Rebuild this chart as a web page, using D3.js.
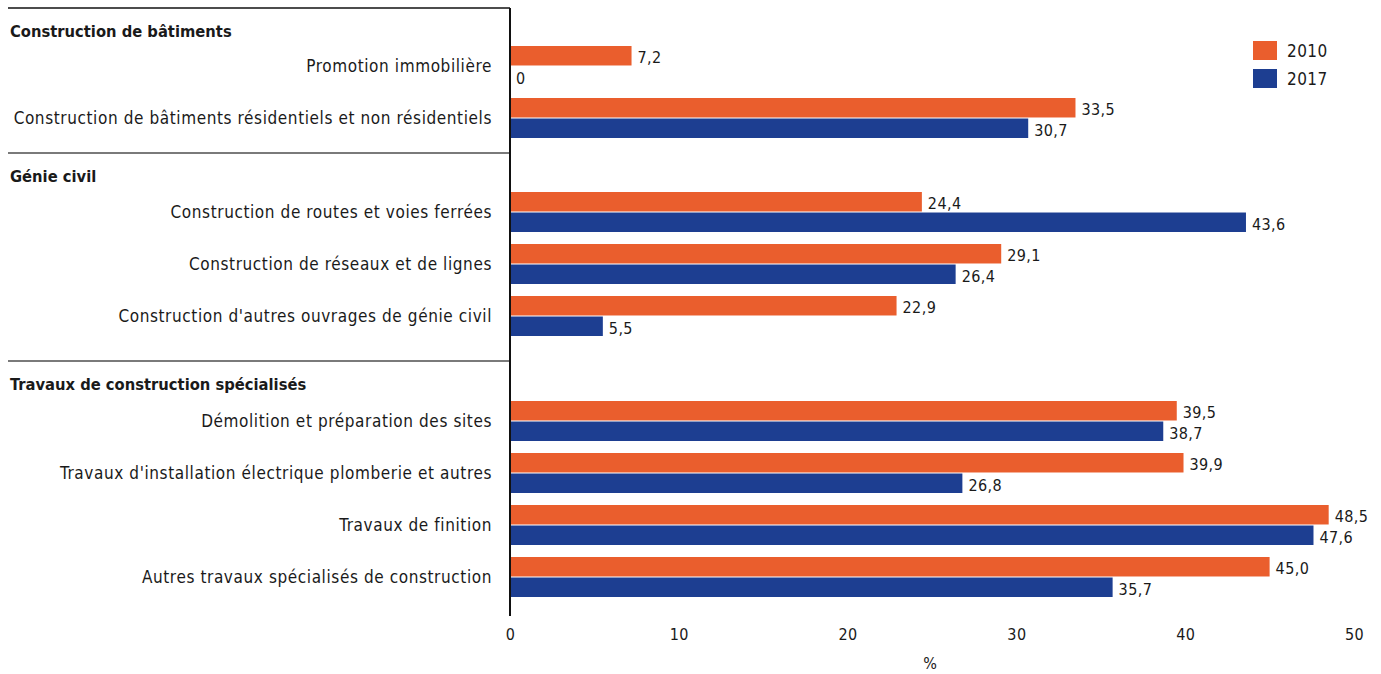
<!DOCTYPE html>
<html lang="fr">
<head>
<meta charset="utf-8">
<script src="https://cdn.jsdelivr.net/npm/d3@7"></script>
<style>
  html, body { margin: 0; padding: 0; background: #fff; }
  svg { display: block; }
  text { font-family: "DejaVu Sans Condensed", "Liberation Sans Narrow", "Liberation Sans", sans-serif; fill: #1a1a1a; }
</style>
</head>
<body>
<svg id="chart" width="1381" height="674"></svg>
<script>
// Sections of the construction sector, each with its sub-activities
const sections = ["Construction de bâtiments", "Génie civil", "Travaux de construction spécialisés"];
const categories = [
  ["Promotion immobilière", "Construction de bâtiments résidentiels et non résidentiels"],
  ["Construction de routes et voies ferrées", "Construction de réseaux et de lignes", "Construction d'autres ouvrages de génie civil"],
  ["Démolition et préparation des sites", "Travaux d'installation électrique plomberie et autres", "Travaux de finition", "Autres travaux spécialisés de construction"]
];
const years = ["2010", "2017"];
const values2010 = [[7.2, 33.5], [24.4, 29.1, 22.9], [39.5, 39.9, 48.5, 45.0]];
const values2017 = [[0, 30.7], [43.6, 26.4, 5.5], [38.7, 26.8, 47.6, 35.7]];
const xTicks = [0, 10, 20, 30, 40, 50];
const xTitle = "%";

const colors = { "2010": "#ea5e2d", "2017": "#1d3e91" };

const svg = d3.select("#chart");
const fmt = v => d3.format(".1f")(v).replace(".", ",");
const label = v => v === 0 ? "0" : fmt(v);

const x = d3.scaleLinear().domain([0, 50]).range([510, 1354]);

// vertical layout of the three blocks
const sectionTop = [8, 153, 361];
const firstOffset = [38, 39, 40];
const axisBottom = 616;
const step = 52, groupH = 40;

const yearBand = d3.scaleBand().domain(years).range([0, groupH]).paddingInner(0.05);

sections.forEach((name, si) => {
  const cats = categories[si];
  const top = sectionTop[si];
  const start = top + firstOffset[si];
  const y = d3.scaleBand().domain(cats)
    .range([start, start + cats.length * step - (step - groupH)])
    .paddingInner((step - groupH) / step).paddingOuter(0);

  // separator line above the block
  svg.append("line")
    .attr("x1", 8).attr("x2", x(0))
    .attr("y1", top).attr("y2", top)
    .attr("stroke", si === 0 ? "#111" : "#7a7a7a")
    .attr("stroke-width", si === 0 ? 1.5 : 2);

  svg.append("text")
    .attr("x", 10).attr("y", top + 23)
    .attr("dy", "0.35em")
    .style("font-size", "16.4px").style("font-weight", "bold")
    .text(name);

  const g = svg.append("g");
  cats.forEach((c, ci) => {
    const y0 = y(c);
    g.append("text")
      .attr("x", 492).attr("y", y0 + groupH / 2)
      .attr("dy", "0.35em")
      .attr("text-anchor", "end")
      .style("font-size", "17px")
      .style("letter-spacing", "0.6px")
      .text(c);

    const rows = [
      { year: "2010", v: values2010[si][ci] },
      { year: "2017", v: values2017[si][ci] }
    ];
    rows.forEach(r => {
      const by = y0 + yearBand(r.year);
      g.append("rect")
        .attr("x", x(0)).attr("y", by)
        .attr("width", x(r.v) - x(0))
        .attr("height", yearBand.bandwidth())
        .attr("fill", colors[r.year]);
      g.append("text")
        .attr("x", x(r.v) + 6).attr("y", by + yearBand.bandwidth() / 2 + 2)
        .attr("dy", "0.35em")
        .style("font-size", "16px")
        .style("letter-spacing", "0.4px")
        .text(label(r.v));
    });
  });
});

// vertical baseline
svg.append("line")
  .attr("x1", x(0)).attr("x2", x(0))
  .attr("y1", sectionTop[0]).attr("y2", axisBottom)
  .attr("stroke", "#111").attr("stroke-width", 2);

// x axis labels (no domain line or ticks)
const xAxis = svg.append("g")
  .attr("transform", `translate(0, ${axisBottom + 13})`)
  .call(d3.axisBottom(x).tickValues(xTicks).tickSize(0).tickPadding(0).tickFormat(d3.format("d")));
xAxis.select(".domain").remove();
xAxis.selectAll("text")
  .style("font-family", null)
  .style("font-size", "16px")
  .style("letter-spacing", "0.4px")
  .attr("fill", "#1a1a1a");

svg.append("text")
  .attr("x", (x(0) + x(50)) / 2 - 2).attr("y", 663)
  .attr("dy", "0.35em")
  .attr("text-anchor", "middle")
  .style("font-size", "16px")
  .text(xTitle);

// legend
const legend = svg.append("g").attr("transform", "translate(1253, 41)");
years.forEach((yr, i) => {
  const lg = legend.append("g").attr("transform", `translate(0, ${i * 28})`);
  lg.append("rect").attr("width", 24).attr("height", 19).attr("fill", colors[yr]);
  lg.append("text").attr("x", 34).attr("y", 10).attr("dy", "0.35em")
    .style("font-size", "17px").style("letter-spacing", "0.4px").text(yr);
});
</script>
</body>
</html>
